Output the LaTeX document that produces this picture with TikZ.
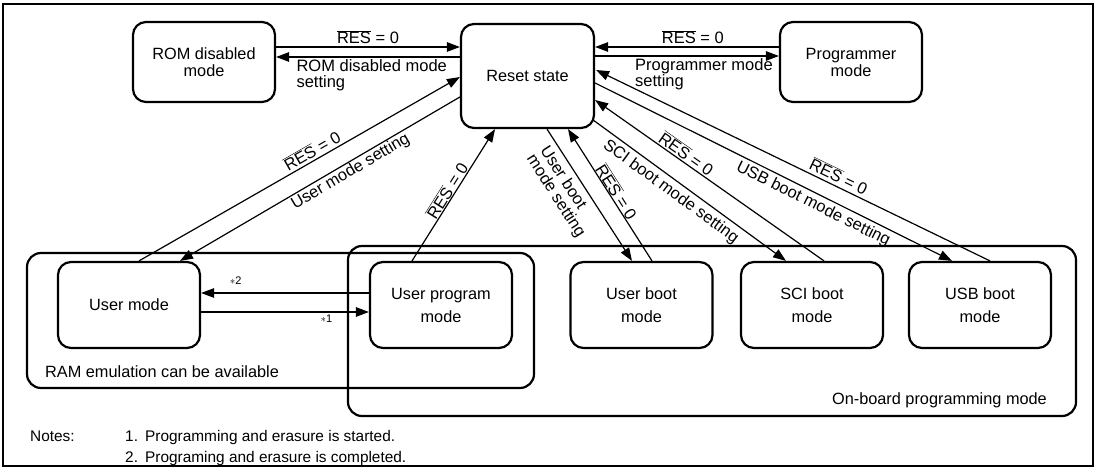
\documentclass[tikz,border=0pt]{standalone}
\usepackage{fontspec}
\setmainfont{Liberation Sans}
\usetikzlibrary{arrows.meta,calc}
\begin{document}
\begin{tikzpicture}[x=1pt,y=-1pt,
  box/.style={draw, line width=2.2pt, rounded corners=13pt, minimum width=142pt,
    minimum height=80pt, align=center, inner sep=0pt, font=\fontsize{16.3}{17}\selectfont},
  bbox/.style={box, minimum height=86pt, font=\fontsize{16.3}{23}\selectfont},
  group/.style={draw, line width=2.2pt, rounded corners=14pt, inner sep=0pt},
  conn/.style={line width=1.2pt},
  arr/.style={-{Triangle[length=13pt,width=9.5pt]}},
  rarr/.style={{Triangle[length=13pt,width=9.5pt]}-},
  lbl/.style={font=\fontsize{16.5}{16}\selectfont, inner sep=1pt},
  note/.style={font=\fontsize{15.4}{21}\selectfont, inner sep=0pt, anchor=base west},
  star/.style={font=\fontsize{11}{12}\selectfont, inner sep=0pt},
]
\useasboundingbox (0,0) rectangle (1102,470);
\draw[line width=2.6pt] (3,4) rectangle (1093,466);

% group frames
\node[group, minimum width=507pt, minimum height=135pt] (ram) at (280.5,320.5) {};
\node[group, minimum width=728pt, minimum height=170pt] (onb) at (712,331) {};

% states
\node[box] (rom) at (204,62) {ROM disabled\\mode};
\node[box, minimum width=133pt, minimum height=104pt] (reset) at (527.5,76) {Reset state};
\node[box] (prog) at (851,62) {Programmer\\mode};
\node[bbox] (um) at (129,305) {User mode};
\node[bbox] (up) at (441,305) {User program\\mode};
\node[bbox] (ub) at (641.5,305) {User boot\\mode};
\node[bbox] (sci) at (812,305) {SCI boot\\mode};
\node[bbox] (usb) at (980,305) {USB boot\\mode};

% group labels
\node[note, font=\fontsize{16.3}{17}\selectfont] (ramlbl) at (45,377) {RAM emulation can be available};
\node[note, anchor=base east, font=\fontsize{16.3}{17}\selectfont] (onblbl) at (1047,404) {On-board programming mode};

% ROM <-> Reset
\draw[conn,arr] ($(rom.east)+(0,-15)$) -- ($(reset.west)+(0,-29)$)
  node[midway, above, lbl, inner sep=2.5pt] {$\overline{\mbox{RES}}$ = 0};
\draw[conn,arr] ($(reset.west)+(0,-19)$) -- ($(rom.east)+(0,-5)$)
  node[pos=0.892, anchor=north west, align=left, lbl, inner sep=0pt, yshift=-2pt] {ROM disabled mode\\setting};

% Programmer <-> Reset
\draw[conn,arr] ($(prog.west)+(0,-15)$) -- ($(reset.east)+(0,-29)$)
  node[pos=0.468, above, lbl, inner sep=2.5pt] {$\overline{\mbox{RES}}$ = 0};
\draw[conn,arr] ($(reset.east)+(0,-20)$) -- ($(prog.west)+(0,-6)$)
  node[pos=0.215, anchor=north west, align=left, lbl, inner sep=0pt, yshift=-2pt] {Programmer mode\\setting};

% User mode <-> Reset
\draw[conn,arr] ($(um.north)+(10,0)$) -- ($(reset.west)+(0,1)$)
  node[pos=0.554, sloped, above, lbl, inner sep=2.5pt] {$\overline{\mbox{RES}}$ = 0};
\draw[conn,rarr] ($(um.north)+(51,0)$) -- ($(reset.west)+(0,21)$)
  node[pos=0.593, sloped, below, lbl, inner sep=1pt] {User mode setting};

% User program -> Reset
\draw[conn,arr] ($(up.north)+(-29,0)$) -- ($(reset.south)+(-32.5,0)$)
  node[pos=0.5, sloped, above, lbl, inner sep=0.5pt] {$\overline{\mbox{RES}}$ = 0};

% User boot <-> Reset
\draw[conn,arr] ($(reset.south)+(19.5,0)$) -- ($(ub.north)+(-9.5,0)$)
  node[pos=0.39, sloped, below, lbl, align=left, inner sep=5pt] {User boot\\mode setting};
\draw[conn,rarr] ($(reset.south)+(40.5,0)$) -- ($(ub.north)+(10.5,0)$)
  node[pos=0.507, sloped, above, lbl, inner sep=0pt] {$\overline{\mbox{RES}}$ = 0};

% SCI boot <-> Reset
\draw[conn,arr] ($(reset.east)+(-2,44)$) -- ($(sci.north)+(-26,0)$)
  node[pos=0.44, sloped, below, lbl, inner sep=4pt] {SCI boot mode setting};
\draw[conn,rarr] ($(reset.east)+(0,24)$) -- ($(sci.north)+(12,0)$)
  node[pos=0.377, sloped, above, lbl, inner sep=1.5pt] {$\overline{\mbox{RES}}$ = 0};

% USB boot <-> Reset
\draw[conn,arr] ($(reset.east)+(0,7)$) -- ($(usb.north)+(-28,0)$)
  node[pos=0.625, sloped, below, lbl, inner sep=3pt] {USB boot mode setting};
\draw[conn,rarr] ($(reset.east)+(1,-6)$) -- ($(usb.north)+(10,0)$)
  node[pos=0.605, sloped, above, lbl, inner sep=3pt] {$\overline{\mbox{RES}}$ = 0};

% User mode <-> User program
\draw[conn,arr] ($(up.west)+(0,-12)$) -- ($(um.east)+(0,-12)$)
  node[pos=0.794, star, yshift=12pt] {$\ast$2};
\draw[conn,arr] ($(um.east)+(0,7)$) -- ($(up.west)+(0,7)$)
  node[pos=0.747, star, yshift=-7pt] {$\ast$1};

% notes
\node[note] (notes) at (30,441) {Notes:};
\node[note] (n1) at (125,441) {1.};
\node[note] (n1t) at (145,441) {Programming and erasure is started.};
\node[note] (n2) at (125,462) {2.};
\node[note] (n2t) at (145,462) {Programing and erasure is completed.};
\end{tikzpicture}
\end{document}
